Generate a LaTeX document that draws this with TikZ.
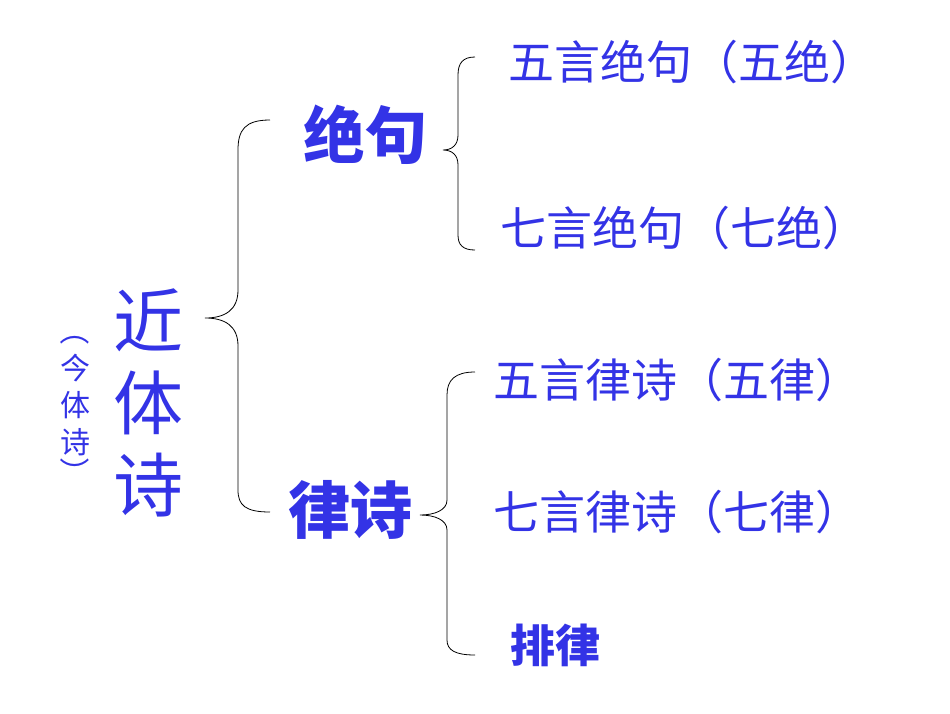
\documentclass[tikz,border=0pt]{standalone}
\usepackage{fontspec}
\setmainfont{Noto Sans CJK SC}
\definecolor{tb}{RGB}{51,51,230}
\tikzset{t/.style={text=tb,inner sep=0pt},
br/.style={draw=black,line width=0.8pt}}
\begin{document}
\begin{tikzpicture}[x=1pt,y=-1pt]
\useasboundingbox (0,0) rectangle (950,713);
\node[t,font=\fontsize{70}{82}\selectfont,align=center] (big) at (148,403) {近\\体\\诗};
\node[t,font=\fontsize{30}{36}\selectfont,rotate=-90] (p1) at (75,330) {（};
\node[t,font=\fontsize{30}{37}\selectfont,align=center] (sm) at (75,405) {今\\体\\诗};
\node[t,font=\fontsize{30}{36}\selectfont,rotate=-90] (p2) at (75,472) {）};
\node[t,font=\bfseries\fontsize{62}{66}\selectfont] (j) at (365,135) {绝句};
\node[t,font=\bfseries\fontsize{62}{66}\selectfont] (l) at (350,510) {律诗};
\tikzset{it/.style={t,anchor=west,font=\fontsize{46}{52}\selectfont}}
\node[it] (a) at (508,62) {五言绝句（五绝）};
\node[it] (b) at (500,228) {七言绝句（七绝）};
\node[it] (c) at (493,380) {五言律诗（五律）};
\node[it] (d) at (493,512) {七言律诗（七律）};
\node[it,font=\bfseries\fontsize{45}{50}\selectfont] (e) at (510,645) {排律};
% big brace
\draw[br] (270,120) .. controls (245,120) and (238,130) .. (238,150) -- (238,290) .. controls (238,310) and (225,318) .. (205,318) .. controls (225,318) and (238,326) .. (238,346) -- (238,490) .. controls (238,505) and (245,512) .. (270,512);
% brace 2
\draw[br] (475,57) .. controls (463,57) and (458,63) .. (458,75) -- (458,135) .. controls (458,145) and (452,150) .. (443,150) .. controls (452,150) and (458,155) .. (458,165) -- (458,235) .. controls (458,245) and (463,250) .. (475,250);
% brace 3
\draw[br] (475,372) .. controls (455,372) and (447,380) .. (447,395) -- (447,500) .. controls (447,510) and (435,515) .. (420,515) .. controls (435,515) and (447,520) .. (447,530) -- (447,640) .. controls (447,650) and (455,655) .. (475,655);
\end{tikzpicture}
\end{document}
